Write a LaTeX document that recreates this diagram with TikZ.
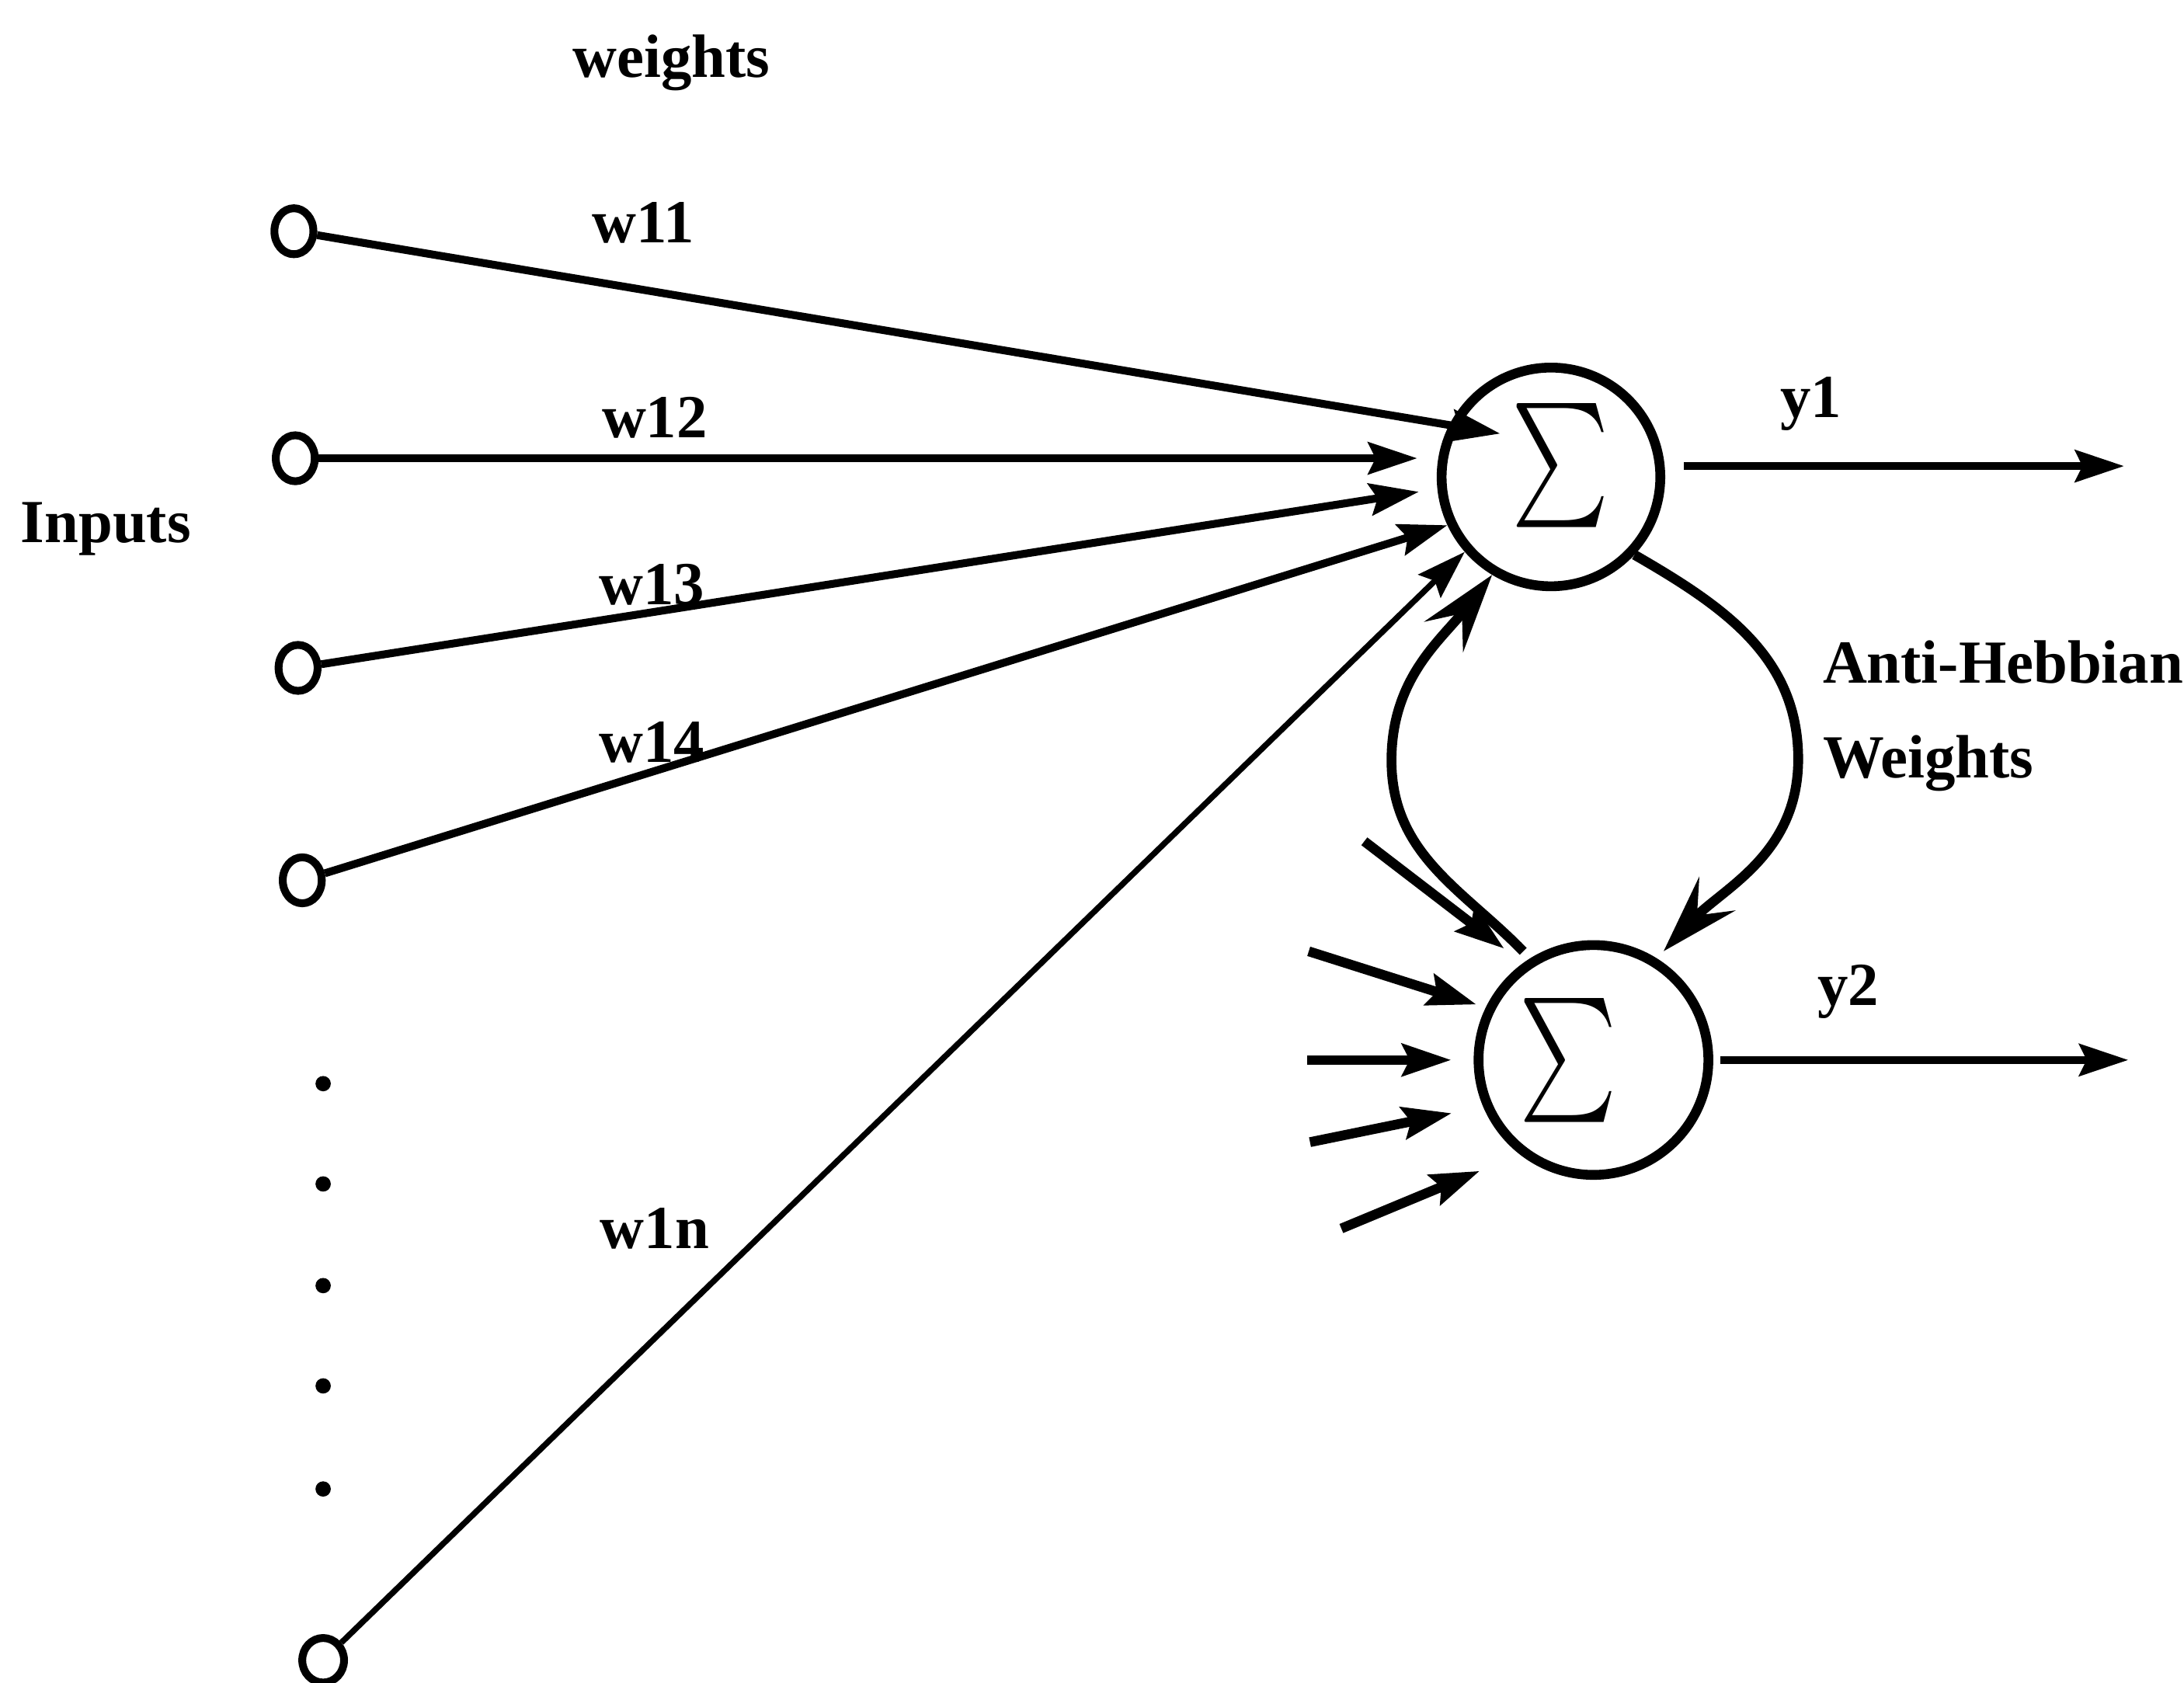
\documentclass[tikz,border=0pt]{standalone}
\usepackage{fontspec}
\setmainfont{Liberation Serif}
\usepackage{graphicx}
\usepackage{tikz}
\usetikzlibrary{arrows.meta,calc,positioning,shapes.geometric}

\newcommand{\sumsign}{\resizebox*{0.70cm}{0.89cm}{$\sum$}}

\begin{document}
\begin{tikzpicture}[
  lbl/.style={font=\bfseries\fontsize{12.5}{19.3}\selectfont,inner sep=0pt},
  inp/.style={draw,ellipse,line width=1.6pt,minimum width=0.28cm,minimum height=0.33cm,inner sep=0pt},
  neuron/.style={draw,circle,line width=2pt,inner sep=0pt},
  wt/.style={-{Stealth[length=10pt,width=6.5pt,inset=1.5pt]},line width=1.6pt},
  side/.style={wt,line width=2pt},
  anti/.style={-{Stealth[length=16pt,width=10pt,inset=6pt]},line width=2pt}
]
\useasboundingbox (0,0) rectangle (15.68,-12.08);

% summing units
\node[neuron,minimum size=1.57cm] (s1) at (11.135,-3.424) {};
\node[neuron,minimum size=1.65cm] (s2) at (11.44,-7.61) {};
\node[inner sep=0pt] (sg1) at ([xshift=0.07cm,yshift=0.08cm]s1.center) {\sumsign};
\node[inner sep=0pt] (sg2) at ([xshift=-0.18cm]s2.center) {\sumsign};

% input terminals
\node[inp] (x1) at (2.11,-1.66) {};
\node[inp] (x2) at (2.12,-3.29) {};
\node[inp] (x3) at (2.14,-4.795) {};
\node[inp] (x4) at (2.17,-6.32) {};
\node[inp,minimum width=0.3cm,minimum height=0.32cm] (x5) at (2.32,-11.92) {};
\foreach \y in {7.78,8.50,9.23,9.95,10.69} \fill (2.32,-\y) circle (0.055);

% forward weights
\draw[wt,shorten >=0.37cm] (x1) -- ([yshift=0.25cm]s1.center);
\draw[wt,shorten >=0.14cm] (x2) -- (x2 -| s1.west);
\draw[wt,shorten >=0.135cm] (x3) -- (s1.186);
\draw[wt] (x4) -- (s1.205);
\draw[wt,line width=1.2pt] (x5) -- (s1.221);

\node[lbl] (wlab) at (4.82,-0.45) {weights};
\node[lbl] (inlab) at (0.76,-3.80) {Inputs};
\node[lbl] (l11) at (4.62,-1.60) {w11};
\node[lbl] (l12) at (4.70,-3.00) {w12};
\node[lbl] (l13) at (4.68,-4.20) {w13};
\node[lbl] (l14) at (4.68,-5.33) {w14};
\node[lbl] (l1n) at (4.70,-8.82) {w1n};

% other inputs of the second unit
\coordinate (a0) at (9.795,-6.04);
\coordinate (b0) at (9.396,-6.83);
\coordinate (c0) at (9.385,-7.61);
\coordinate (d0) at (9.405,-8.20);
\coordinate (e0) at (9.63,-8.82);
\draw[side,shorten >=0.17cm] (a0) -- (s2.126);
\draw[side,shorten >=0.07cm] (b0) -- (s2.154);
\draw[side,shorten >=0.16cm] (c0) -- (s2.180);
\draw[side,shorten >=0.23cm] (d0) -- (s2.-157);
\draw[side,shorten >=0.31cm] (e0) -- (s2.-128);

% outputs
\coordinate (o1) at (15.25,-3.346);
\coordinate (o2) at (15.28,-7.61);
\draw[wt,shorten <=0.135cm] (s1.east |- o1) -- (o1);
\draw[wt,shorten <=0.05cm] (s2.east) -- (o2);
\node[lbl] (y1lab) at (13.00,-2.90) {y1};
\node[lbl] (y2lab) at (13.27,-7.12) {y2};

% lateral (anti-hebbian) connections
\coordinate (r1) at (12.91,-5.45);
\coordinate (r2) at (9.99,-5.46);
\draw[anti,shorten >=0.07cm] (s1.-43) to[out=-30,in=90] (r1) to[out=-90,in=47] (s2.58);
\draw[anti,shorten <=0.07cm] (s2.122) to[out=134,in=-90] (r2) to[out=90,in=-128] (s1.-121);
\node[lbl,anchor=west,align=left] (ahlab) at (13.08,-5.14) {Anti-Hebbian\\Weights};
\end{tikzpicture}
\end{document}
